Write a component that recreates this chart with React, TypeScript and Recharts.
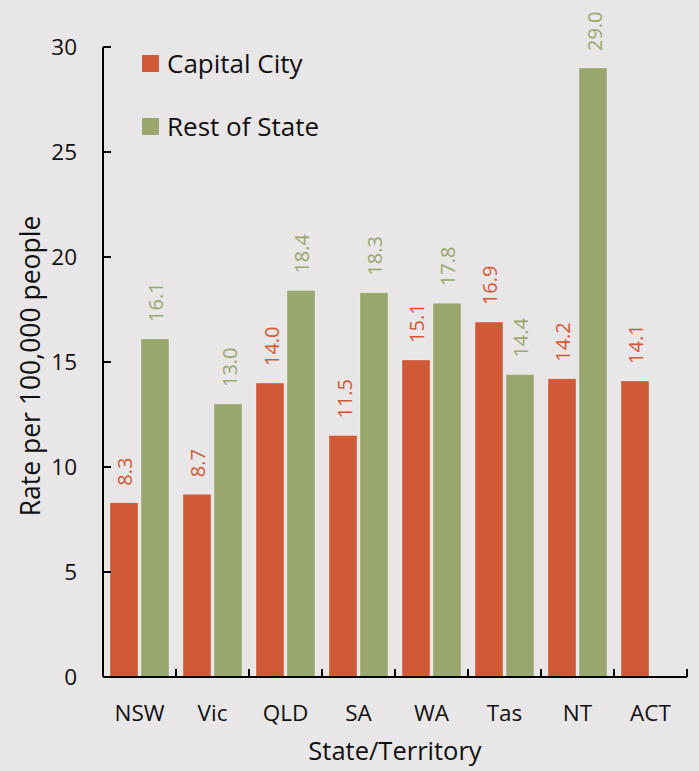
import React from "react";
import {
  BarChart,
  Bar,
  XAxis,
  YAxis,
  Legend,
  LabelList,
  Label,
} from "recharts";

const states = ["NSW", "Vic", "QLD", "SA", "WA", "Tas", "NT", "ACT"];
const capitalCity = [8.3, 8.7, 14.0, 11.5, 15.1, 16.9, 14.2, 14.1];
const restOfState: (number | null)[] = [16.1, 13.0, 18.4, 18.3, 17.8, 14.4, 29.0, null];
const yTicks = [0, 5, 10, 15, 20, 25, 30];

const RED = "#D05A37";
const GREEN = "#99A66E";
const BG = "#E8E6E7";
const FONT = "'Open Sans', 'Noto Sans', sans-serif";

const data = states.map((s, i) => ({
  state: s,
  capital: capitalCity[i],
  rest: restOfState[i],
}));

const makeValueLabel = (color: string) => (props: any) => {
  const { x, y, width, value } = props;
  if (value === null || value === undefined) return null;
  const cx = Number(x) + Number(width) / 2 + 1;
  const ty = Number(y) - 17;
  return (
    <text
      x={cx}
      y={ty}
      fill={color}
      fontSize={20}
      fontFamily={FONT}
      textAnchor="start"
      dominantBaseline="central"
      transform={`rotate(-90, ${cx}, ${ty})`}
    >
      {Number(value).toFixed(1)}
    </text>
  );
};

const TICK_DROP = 28;

const XTick = (props: any) => {
  const { x, y, payload, index, visibleTicksCount } = props;
  const half = payload && payload.offset ? payload.offset : 36.5;
  const axisY = Number(y) - TICK_DROP;
  return (
    <g>
      <line x1={x - half} x2={x - half} y1={axisY} y2={axisY - 8} stroke="#000" strokeWidth={2} />
      {index === visibleTicksCount - 1 ? (
        <line x1={x + half} x2={x + half} y1={axisY} y2={axisY - 8} stroke="#000" strokeWidth={2} />
      ) : null}
      <text
        x={x}
        y={y}
        dy="0.71em"
        textAnchor="middle"
        fill="#111"
        fontSize={22.5}
        fontFamily={FONT}
      >
        {payload.value}
      </text>
    </g>
  );
};

const LegendContent = () => (
  <div style={{ fontFamily: FONT, fontSize: 26, color: "#111" }}>
    {[
      { name: "Capital City", color: RED },
      { name: "Rest of State", color: GREEN },
    ].map((it, i) => (
      <div
        key={it.name}
        style={{
          display: "flex",
          alignItems: "center",
          height: 34,
          marginBottom: i === 0 ? 29 : 0,
          whiteSpace: "nowrap",
        }}
      >
        <span
          style={{
            display: "inline-block",
            width: 17,
            height: 17,
            background: it.color,
            marginRight: 8,
          }}
        />
        <span style={{ lineHeight: "34px" }}>{it.name}</span>
      </div>
    ))}
  </div>
);

export default function App() {
  return (
    <div
      style={{
        position: "absolute",
        left: 0,
        top: 0,
        width: 699,
        height: 771,
        background: BG,
      }}
    >
      <BarChart
        width={699}
        height={771}
        data={data}
        margin={{ top: 47, right: 12, bottom: 0, left: 0 }}
        barCategoryGap={7}
        barGap={3}
      >
        <XAxis
          dataKey="state"
          height={94}
          axisLine={{ stroke: "#000", strokeWidth: 2 }}
          tickLine={false}
          tickMargin={0}
          tick={<XTick />}
          tickSize={TICK_DROP}
          interval={0}
        >
          <Label
            value="State/Territory"
            position="insideBottom"
            offset={11}
            fill="#111"
            fontSize={25.5}
            fontFamily={FONT}
          />
        </XAxis>
        <YAxis
          domain={[0, 30]}
          ticks={yTicks}
          width={103}
          axisLine={{ stroke: "#000", strokeWidth: 2 }}
          tickLine={{ stroke: "#000", strokeWidth: 2 }}
          tickSize={-8}
          tickMargin={34}
          tick={{ fill: "#111", fontSize: 22.5, fontFamily: FONT }}
          interval={0}
        >
          <Label
            content={(p: any) => {
              const vb = p.viewBox || {};
              const cx = (vb.x || 0) + 30;
              const cy = (vb.y || 0) + (vb.height || 0) / 2 + 4;
              return (
                <text
                  x={cx}
                  y={cy}
                  textAnchor="middle"
                  dominantBaseline="central"
                  fill="#111"
                  fontSize={26.5}
                  fontFamily={FONT}
                  transform={`rotate(-90, ${cx}, ${cy})`}
                >
                  Rate per 100,000 people
                </text>
              );
            }}
          />
        </YAxis>
        <Legend
          layout="vertical"
          align="center"
          verticalAlign="middle"
          wrapperStyle={{ top: 46, left: 142, width: 300 }}
          content={<LegendContent />}
        />
        <Bar
          dataKey="capital"
          name="Capital City"
          fill={RED}
          stroke="rgba(255,255,255,0.3)"
          strokeWidth={1}
          isAnimationActive={false}
        >
          <LabelList dataKey="capital" content={makeValueLabel(RED)} />
        </Bar>
        <Bar
          dataKey="rest"
          name="Rest of State"
          fill={GREEN}
          stroke="rgba(255,255,255,0.3)"
          strokeWidth={1}
          isAnimationActive={false}
        >
          <LabelList dataKey="rest" content={makeValueLabel(GREEN)} />
        </Bar>
      </BarChart>
    </div>
  );
}
